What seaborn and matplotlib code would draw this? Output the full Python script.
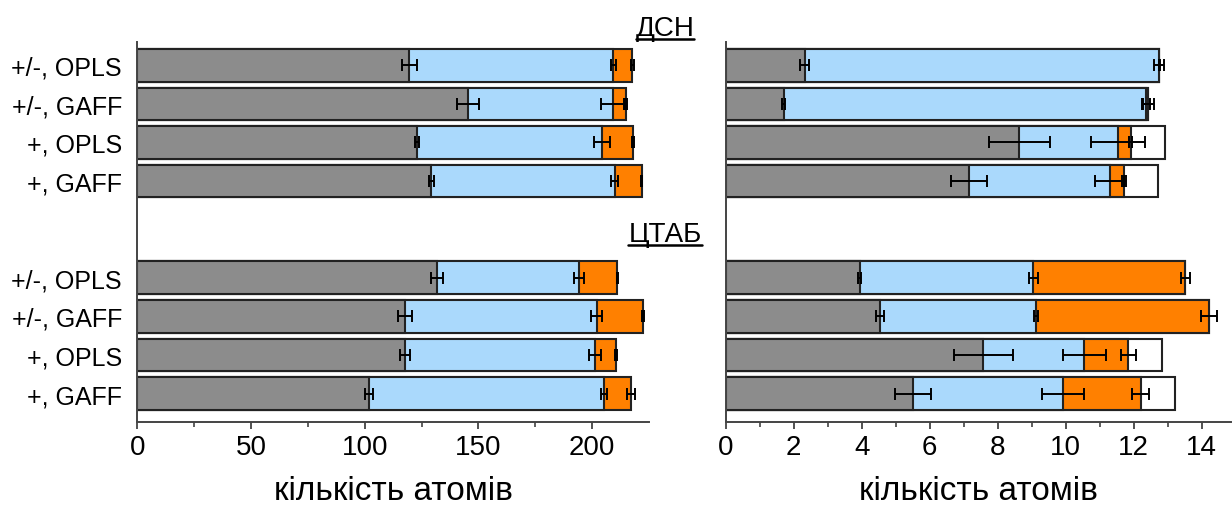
import numpy as np
import pandas as pd
import seaborn as sns
import matplotlib
matplotlib.use("Agg")
import matplotlib.pyplot as plt
from matplotlib.lines import Line2D
from matplotlib.ticker import MultipleLocator

sns.set_theme(style="white")
plt.rcParams["font.family"] = ["Liberation Sans", "DejaVu Sans"]

# Rows: four ДСН systems followed by four ЦТАБ systems
row_labels = ["+/-, OPLS", "+/-, GAFF", "+, OPLS", "+, GAFF",
              "+/-, OPLS", "+/-, GAFF", "+, OPLS", "+, GAFF"]
row_pos = [0, 1, 2, 3, 5.5, 6.5, 7.5, 8.5]
group_titles = ["ДСН", "ЦТАБ"]

# Left panel: cumulative atom counts per shell
left_gray = [119.6, 145.3, 123.0, 129.3, 131.9, 117.7, 117.6, 102.0]
left_blue = [209.3, 209.2, 204.4, 209.9, 194.1, 202.0, 201.4, 205.2]
left_orange = [217.7, 214.8, 217.8, 221.7, 211.1, 222.5, 210.5, 217.1]
left_gray_err = [3.2, 4.8, 0.9, 1.2, 2.6, 2.9, 2.1, 1.7]
left_blue_err = [1.1, 5.1, 3.5, 1.6, 2.2, 2.5, 2.7, 1.2]
left_orange_err = [0.5, 0.6, 0.4, 0.4, 0.4, 0.5, 0.5, 1.6]

# Right panel: cumulative atom counts per shell
right_gray = [2.32, 1.70, 8.63, 7.15, 3.94, 4.53, 7.58, 5.51]
right_blue = [12.75, 12.36, 11.54, 11.29, 9.05, 9.13, 10.55, 9.92]
right_orange = [12.75, 12.43, 11.91, 11.71, 13.52, 14.22, 11.84, 12.20]
right_white = [12.75, 12.43, 12.92, 12.71, 13.52, 14.22, 12.82, 13.21]
right_gray_err = [0.14, 0.04, 0.90, 0.53, 0.05, 0.12, 0.87, 0.54]
right_blue_err = [0.15, 0.11, 0.80, 0.43, 0.12, 0.05, 0.64, 0.63]
right_orange_err = [0.02, 0.15, 0.05, 0.05, 0.12, 0.23, 0.23, 0.26]

xlabel = "кількість атомів"

GRAY = "#8c8c8c"
BLUE = "#aad9fc"
ORANGE = "#ff8000"
WHITE = "#ffffff"
EDGE = "#222222"

W, H = 1232, 506
fig = plt.figure(figsize=(W / 100, H / 100), dpi=100)
ax_top, ax_bottom = 43.0, 423.3
ax_l = fig.add_axes([137.3 / W, (H - ax_bottom) / H, 511.5 / W, (ax_bottom - ax_top) / H])
ax_r = fig.add_axes([725.7 / W, (H - ax_bottom) / H, 505 / W, (ax_bottom - ax_top) / H])


def draw_stack(ax, layers, errors):
    # outermost cumulative level first, inner levels painted on top
    for values, color in reversed(layers):
        df = pd.DataFrame({"n": values, "row": row_pos})
        sns.barplot(data=df, x="n", y="row", orient="h", native_scale=True,
                    color=color, saturation=1, width=0.845, errorbar=None,
                    edgecolor=EDGE, linewidth=1.5, ax=ax)
    for values, err in errors:
        ax.errorbar(values, row_pos, xerr=err, fmt="none", ecolor="black",
                    elinewidth=1.4, capsize=4.3, capthick=1.4, zorder=5)


draw_stack(ax_l,
           [(left_gray, GRAY), (left_blue, BLUE), (left_orange, ORANGE)],
           [(left_gray, left_gray_err), (left_blue, left_blue_err),
            (left_orange, left_orange_err)])
draw_stack(ax_r,
           [(right_gray, GRAY), (right_blue, BLUE), (right_orange, ORANGE),
            (right_white, WHITE)],
           [(right_gray, right_gray_err), (right_blue, right_blue_err),
            (right_orange, right_orange_err)])

for ax, xmax, major, minor in [(ax_l, 224.9, 50, 25), (ax_r, 14.85, 2, 1)]:
    ax.set_xlim(0, xmax)
    ax.set_ylim(9.24, -0.6)
    ax.xaxis.set_major_locator(MultipleLocator(major))
    ax.xaxis.set_minor_locator(MultipleLocator(minor))
    ax.tick_params(axis="x", which="major", direction="out", length=5.3,
                   width=1.2, color="#333333", labelsize=20, pad=3,
                   bottom=True, labelcolor="black")
    ax.tick_params(axis="x", which="minor", direction="out", length=3.6,
                   width=1.1, color="#333333", bottom=True)
    ax.set_xlabel(xlabel, fontsize=24, color="black", va="baseline")
    ax.xaxis.set_label_coords(0.5, -(500.5 - ax_bottom) / (ax_bottom - ax_top))
    ax.set_ylabel("")
    for side in ["top", "right"]:
        ax.spines[side].set_visible(False)
    for side in ["left", "bottom"]:
        ax.spines[side].set_color("#444444")
        ax.spines[side].set_linewidth(1.4)
    ax.set_yticks(row_pos)

ax_l.set_yticklabels(row_labels, fontsize=18, color="black")
ax_l.tick_params(axis="y", length=0, pad=11)
ax_r.set_yticklabels([])
ax_r.tick_params(axis="y", length=0)

# Underlined group titles between the panels
fig.canvas.draw()
renderer = fig.canvas.get_renderer()
for title, base_px in zip(group_titles, [35.5, 241.5]):
    t = fig.text(665 / W, 1 - base_px / H, title, fontsize=20,
                 ha="center", va="baseline", color="black")
    bb = t.get_window_extent(renderer=renderer)
    y_line = 1 - (base_px + 4.5) / H
    fig.add_artist(Line2D([bb.x0 / W, bb.x1 / W], [y_line, y_line],
                          transform=fig.transFigure, color="black", lw=1.8))

fig.savefig("out.png", dpi=100)
